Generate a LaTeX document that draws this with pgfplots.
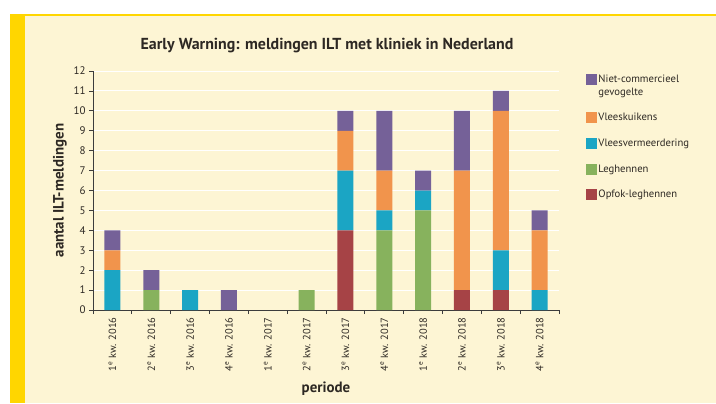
\documentclass[border=0pt]{standalone}
\usepackage{pgfplots}
\pgfplotsset{compat=1.18}
\usepackage{pgfplotstable}
\usepackage{fontspec}
\setmainfont{PT Sans}

\definecolor{bgbeige}{RGB}{253,245,212}
\definecolor{iltyellow}{RGB}{255,214,0}
\definecolor{txt}{RGB}{45,40,35}
\definecolor{axiscol}{RGB}{60,60,60}
\definecolor{cpurple}{RGB}{117,97,152}
\definecolor{corange}{RGB}{241,148,76}
\definecolor{cteal}{RGB}{27,165,196}
\definecolor{cgreen}{RGB}{135,178,93}
\definecolor{cred}{RGB}{166,67,70}

\pgfplotsset{
  squarelegend/.style={legend image code/.code={\fill[##1] (0bp,-5.5bp) rectangle (11bp,5.5bp);}},
  squarelegendtop/.style={legend image code/.code={\fill[##1] (0bp,1bp) rectangle (11bp,12bp);}},
}

% x: kwartaal, kolommen van onder naar boven in de stapel
\pgfplotstableread{
x red green teal orange purple
0  0 0 2 1 1
1  0 1 0 0 1
2  0 0 1 0 0
3  0 0 0 0 1
4  0 0 0 0 0
5  0 1 0 0 0
6  4 0 3 2 1
7  0 4 1 2 3
8  0 5 1 0 1
9  1 0 0 6 3
10 1 0 2 7 1
11 0 0 1 3 1
}\meldingen

\begin{document}
\begin{tikzpicture}[x=1bp,y=1bp]
% achtergrond en gele rand
\fill[white] (0,0) rectangle (716,403);
\fill[bgbeige] (10,0) rectangle (716,388);
\fill[iltyellow] (10,0) rectangle (25,388);
\fill[iltyellow] (10,386.5) rectangle (716,389);
\node[font=\bfseries\fontsize{16}{18}\selectfont, text=txt] at (327,357)
  {Early Warning: meldingen ILT met kliniek in Nederland};

\begin{axis}[
  at={(93bp,93bp)}, anchor=south west,
  scale only axis, width=466bp, height=239bp,
  ybar stacked, bar width=16bp,
  xmin=-0.5, xmax=11.5, ymin=0, ymax=12,
  enlargelimits=false,
  axis lines*=left,
  axis line style={draw=axiscol, line width=0.8pt},
  tick align=outside,
  ytick={0,1,...,12},
  xtick={0,...,11},
  xticklabels={1\textsuperscript{e} kw. 2016,2\textsuperscript{e} kw. 2016,3\textsuperscript{e} kw. 2016,4\textsuperscript{e} kw. 2016,
               1\textsuperscript{e} kw. 2017,2\textsuperscript{e} kw. 2017,3\textsuperscript{e} kw. 2017,4\textsuperscript{e} kw. 2017,
               1\textsuperscript{e} kw. 2018,2\textsuperscript{e} kw. 2018,3\textsuperscript{e} kw. 2018,4\textsuperscript{e} kw. 2018},
  minor xtick={-0.5,0.5,...,11.5},
  major x tick style={draw=none},
  minor x tick style={draw=axiscol, line width=0.8pt},
  major y tick style={draw=axiscol, line width=0.8pt},
  major tick length=4bp, minor tick length=4bp,
  ymajorgrids, major grid style={draw=white, line width=1pt},
  /pgf/number format/assume math mode=true,
  yticklabel style={font=\fontsize{11}{13}\selectfont, text=txt},
  xticklabel style={font=\fontsize{10.5}{12}\selectfont, text=txt, rotate=90, anchor=east},
  ylabel={aantal ILT-meldingen},
  ylabel style={font=\bfseries\fontsize{15}{17}\selectfont, text=txt},
  xlabel={periode},
  xlabel style={font=\bfseries\fontsize{15}{17}\selectfont, text=txt, yshift=-4bp},
  legend style={draw=none, fill=none, at={(1.05,1.0)}, anchor=north west,
    font=\fontsize{10.7}{12.5}\selectfont, text=txt, row sep=12.6bp,
    cells={anchor=west, align=left}},
  legend cell align=left,
  reverse legend,
  squarelegend,
]
\addplot[fill=cred, draw=none] table[x=x, y=red] {\meldingen};
\addplot[fill=cgreen, draw=none] table[x=x, y=green] {\meldingen};
\addplot[fill=cteal, draw=none] table[x=x, y=teal] {\meldingen};
\addplot[fill=corange, draw=none] table[x=x, y=orange] {\meldingen};
\addplot[fill=cpurple, draw=none, squarelegendtop] table[x=x, y=purple] {\meldingen};
\legend{Opfok-leghennen, Leghennen, Vleesvermeerdering, Vleeskuikens, {Niet-commercieel\\gevogelte}}
\end{axis}
\end{tikzpicture}
\end{document}
